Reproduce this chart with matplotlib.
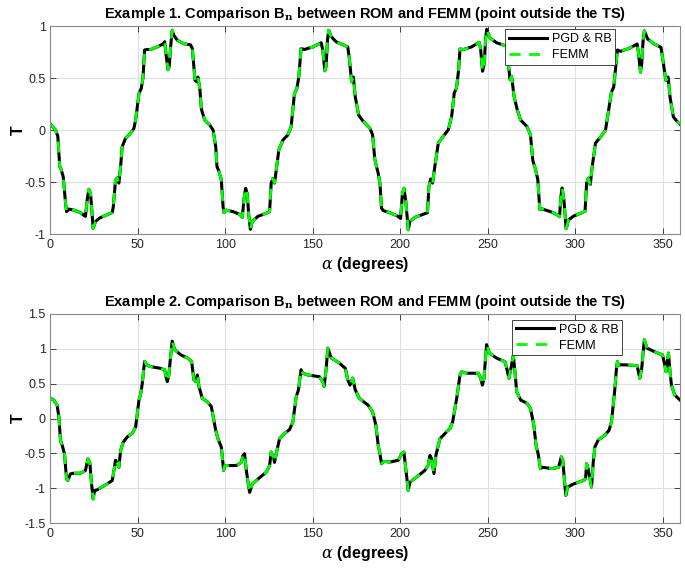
import numpy as np
import matplotlib.pyplot as plt

plt.rcParams['font.family'] = ['Liberation Sans', 'DejaVu Sans']
plt.rcParams['mathtext.fontset'] = 'dejavuserif'

# Example 1 (top): angle (deg) and Bn (T)
ang_top = [
    0, 2.9, 4.2, 5.3, 6.1, 7.3, 8.6, 9.2, 10.5, 13.4, 17.2, 19.1, 20, 21, 21.9, 22.9, 23.5, 24.4,
    25.8, 27.7, 31.5, 35.3, 35.9, 37.2, 38.2, 39.1, 40.1, 41, 42.9, 45.8, 47.7, 48.7, 50.6, 51.9,
    52.9, 53.8, 55, 57.2, 61, 64.5, 65.3, 66, 67.2, 67.9, 68.7, 69.6, 70.6, 72.5, 76.3, 80.1, 81.1,
    82, 82.6, 83.6, 84.3,
    85.4, 86.3, 88.2, 91.1, 93, 94.5, 95.2, 96.4, 97.7, 98.7, 99.2, 100.6, 104.4, 108.2, 109.7,
    110.6, 111.6, 112.5, 113.3, 114.3, 115.4, 118.6, 123.4, 125.3, 126.2, 127.2, 128.1, 129, 130.6,
    132.9, 135.7, 137.6, 139.5, 140.9, 142, 143.3, 145.2, 150, 154.8, 155.7, 156.9, 157.6, 158.4,
    159.1, 160.5, 163.3, 170, 170.9, 172.2, 173.2, 174.3, 176.2,
    178.8, 182.6, 184.2, 185.5, 187.4, 188.4, 189.3, 190.3, 194.1, 198.3, 200.2, 201.3, 202.1,
    203.1, 204.6, 205.5, 208.4, 213.2, 215.6, 216.4, 217.4, 218.5, 219.8, 221.8, 224.6, 227.5,
    229.4, 230.9, 232.2, 233.4, 234.2, 236.1, 240.8, 245.2, 246, 247.1, 248.1, 248.8, 249.4, 251.3,
    255.1, 260.9, 261.8, 262.8, 263.7, 265.1,
    267, 268.9, 272.6, 274.5, 275.8, 277.4, 278.7, 279.8, 281.1, 286.8, 290.2, 291.1, 291.9, 292.6,
    293.6, 294.9, 296.2, 299.1, 303.8, 305.7, 306.6, 307.5, 308.7, 309.8, 311.7, 314.7, 317.4,
    318.9, 320.8, 322.1, 323.2, 324.2, 326, 331.1, 335.5, 336.2, 337.4, 338.1, 338.9, 339.6, 341.5,
    345.3, 349.1, 350, 351.9, 353.2, 354.3, 356.2, 358.5, 360,
]
rom_top = [
    0.055, 0, -0.06, -0.35, -0.38, -0.45, -0.70, -0.785, -0.76, -0.77, -0.795, -0.82, -0.83, -0.67,
    -0.57, -0.61, -0.74, -0.945, -0.88, -0.85, -0.82, -0.795, -0.74, -0.48, -0.46, -0.51, -0.35,
    -0.16, -0.08, -0.03, 0.015, 0.10, 0.35, 0.40, 0.50, 0.77, 0.775, 0.775, 0.80, 0.83, 0.85, 0.74,
    0.58, 0.61, 0.80, 0.96, 0.91, 0.865, 0.83, 0.82, 0.785, 0.61, 0.48, 0.465, 0.51,
    0.40, 0.20, 0.096, 0.048, 0, -0.16, -0.35, -0.40, -0.48, -0.74, -0.795, -0.77, -0.785, -0.81,
    -0.84, -0.67, -0.56, -0.61, -0.80, -0.955, -0.88, -0.83, -0.80, -0.785, -0.51, -0.465, -0.51,
    -0.40, -0.19, -0.096, -0.048, 0.032, 0.35, 0.40, 0.51, 0.785, 0.775, 0.80, 0.84, 0.77, 0.57,
    0.61, 0.865, 0.96, 0.90, 0.85, 0.80, 0.69, 0.465, 0.51, 0.32, 0.145,
    0.084, 0.019, -0.045, -0.286, -0.415, -0.51, -0.75, -0.775, -0.795, -0.826, -0.85, -0.61,
    -0.56, -0.67, -0.96, -0.88, -0.84, -0.81, -0.795, -0.545, -0.47, -0.51, -0.35, -0.125, -0.06,
    0.003, 0.13, 0.357, 0.405, 0.58, 0.78, 0.775, 0.80, 0.845, 0.775, 0.566, 0.646, 0.87, 0.968,
    0.887, 0.84, 0.807, 0.646, 0.485, 0.518, 0.325,
    0.19, 0.096, 0.032, -0.048, -0.29, -0.38, -0.478, -0.764, -0.758, -0.79, -0.82, -0.834,
    -0.637, -0.557, -0.669, -0.949, -0.866, -0.828, -0.796, -0.78, -0.51, -0.462, -0.525, -0.35,
    -0.124, -0.064, 0, 0.16, 0.366, 0.414, 0.605, 0.77, 0.758, 0.787, 0.828, 0.748, 0.557, 0.637,
    0.86, 0.955, 0.876, 0.828, 0.796, 0.70, 0.478, 0.51, 0.318, 0.127, 0.08, 0.057,
]
femm_top = list(rom_top)  # FEMM curve lies on top of the ROM one

# Example 2 (bottom)
ang_bot = [
    0, 1.9, 3.8, 4.8, 5.7, 6.7, 8, 9.2, 9.9, 11.4, 13.4, 17.2, 20, 21.4, 22.5, 23.3, 24.4, 25.2,
    26.7, 29.6, 32.4, 35.3, 36.3, 37.2, 38.2, 39.1, 40.1, 41.6, 43.9, 46.7, 48.7, 50.6, 51.5, 52.5,
    53.8, 55, 57.2, 63, 65.3, 66.2, 66.8, 67.7, 68.7, 69.6, 71, 74.4, 78.2, 80.7, 82, 83, 84, 84.9,
    86.8, 89.7, 92,
    94.5, 95.8, 97.7, 99, 99.6, 101.5, 106.3, 109.1, 110.1, 111, 112, 113.1, 113.9, 115.4, 118.6,
    123.4, 125.3, 126.2, 127.6, 128.1, 129.5, 131, 133.8, 136.7, 138.6, 140.5, 141.8, 143.3, 144.3,
    147.1, 153.8, 155.7, 156.5, 157.6, 158.6, 160.5, 165.2, 168.6, 170, 171.3, 172.8, 174.3, 176.6,
    181.7, 184.2, 186.1, 187.4, 188.4, 189.3, 190.6, 194.1, 198.9, 200.8, 202.1, 203.2, 204.6,
    205.5, 209.4, 214.1, 216, 217, 217.9, 219.3, 220.4, 222.7, 225.6, 228.4, 230, 232.3, 234.2,
    235.1, 238, 244.7, 246, 247, 247.9, 249.4, 251, 255.2, 259.9, 260.9, 262.2, 263.7, 264.7, 265.6,
    266.6,
    268.9, 272.6, 274.5, 276.4, 277.7, 278.9, 280.2, 281.5, 286.8, 290.6, 292.1, 293, 294, 294.7,
    295.7, 299.1, 304.7, 306, 306.6, 307.5, 308.5, 309.4, 310.4, 311.3, 313.2, 317, 319.4, 320.8,
    322.6, 323.6, 324.2, 324.9, 328.3, 335.5, 336.2, 337, 338.1, 339.6, 341.1, 345.3, 350, 351.3,
    352, 353.4, 354.3, 355.1, 357, 360,
]
rom_bot = [
    0.29, 0.265, 0.19, 0.025, -0.31, -0.385, -0.505, -0.87, -0.89, -0.795, -0.785, -0.785, -0.745,
    -0.58, -0.63, -0.89, -1.155, -1.035, -1.025, -0.98, -0.94, -0.89, -0.745, -0.60, -0.64, -0.70,
    -0.46, -0.34, -0.265, -0.215, -0.12, 0.265, 0.34, 0.505, 0.82, 0.77, 0.745, 0.72, 0.70, 0.58,
    0.53, 0.625, 0.89, 1.11, 0.99, 0.915, 0.87, 0.82, 0.555, 0.53, 0.625, 0.46, 0.29, 0.24, 0.17,
    -0.17, -0.29, -0.41, -0.745, -0.675, -0.675, -0.675, -0.63, -0.53, -0.505, -0.745, -0.94,
    -1.06, -0.94, -0.87, -0.77, -0.675, -0.48, -0.555, -0.63, -0.46, -0.29, -0.215, -0.16, -0.05,
    0.31, 0.41, 0.70, 0.65, 0.625, 0.60, 0.53, 0.46, 0.70, 1.01, 0.87, 0.795, 0.72, 0.555, 0.48,
    0.58, 0.41, 0.29,
    0.19, 0.096, -0.096, -0.385, -0.505, -0.65, -0.615, -0.625, -0.60, -0.505, -0.48, -0.72,
    -1.035, -0.915, -0.84, -0.745, -0.67, -0.53, -0.575, -0.79, -0.53, -0.29, -0.216, -0.144,
    -0.048, 0.29, 0.625, 0.67, 0.65, 0.65, 0.577, 0.48, 0.577, 1.06, 0.94, 0.865, 0.817, 0.72,
    0.577, 0.77, 0.91, 0.67, 0.385,
    0.265, 0.216, 0.144, -0.096, -0.385, -0.51, -0.72, -0.70, -0.72, -0.70, -0.55, -0.60, -0.915,
    -1.105, -0.985, -0.94, -0.89, -0.865, -0.65, -0.72, -0.865, -0.985, -0.625, -0.41, -0.31,
    -0.24, -0.17, -0.048, 0.385, 0.70, 0.817, 0.77, 0.77, 0.76, 0.67, 0.577, 0.72, 1.13, 1.01, 0.96,
    0.913, 0.77, 0.67, 0.94, 0.67, 0.48, 0.337, 0.265,
]
femm_bot = list(rom_bot)

x_ticks = [0, 50, 100, 150, 200, 250, 300, 350]
y_ticks_top = [-1, -0.5, 0, 0.5, 1]
y_ticks_bot = [-1.5, -1, -0.5, 0, 0.5, 1, 1.5]
titles = ["Example 1. Comparison B$_\\mathbf{n}$ between ROM and FEMM (point outside the TS)",
          "Example 2. Comparison B$_\\mathbf{n}$ between ROM and FEMM (point outside the TS)"]

axcol = '#262626'


def style_axes(ax, yticks, ylim, title, leg_anchor):
    ax.set_xlim(0, 360)
    ax.set_ylim(*ylim)
    ax.set_xticks(x_ticks)
    ax.set_yticks(yticks)
    ax.set_yticklabels(['%g' % v for v in yticks])
    ax.grid(True, color='#dfdfdf', linewidth=0.8)
    ax.set_axisbelow(True)
    ax.tick_params(direction='in', length=4, width=0.6, labelsize=9,
                   colors=axcol, top=True, right=True, labelcolor=axcol)
    for sp in ax.spines.values():
        sp.set_color('#8a8a8a')
        sp.set_linewidth(0.8)
    ax.set_title(title, fontsize=10.5, fontweight='bold', color='black', pad=6)
    ax.set_ylabel('T', fontsize=11.5, fontweight='bold', labelpad=-1)
    ax.set_xlabel(r'$\alpha$ (degrees)', fontsize=11.5, fontweight='bold', labelpad=3)
    leg = ax.legend(loc='upper right', bbox_to_anchor=leg_anchor, borderaxespad=0,
                    fontsize=9, fancybox=False, framealpha=1, handlelength=3.0,
                    borderpad=0.3, labelspacing=0.3, handletextpad=0.4)
    leg.get_frame().set_edgecolor(axcol)
    leg.get_frame().set_linewidth(0.6)


fig = plt.figure(figsize=(6.85, 5.68), dpi=100)
ax1 = fig.add_axes([0.0737, 0.588, 0.919, 0.366])
ax2 = fig.add_axes([0.0737, 0.0792, 0.919, 0.368])

for ax, ang, rom, femm in [(ax1, ang_top, rom_top, femm_top), (ax2, ang_bot, rom_bot, femm_bot)]:
    ax.plot(ang, rom, color='black', linewidth=2.2, label='PGD & RB')
    ax.plot(ang, femm, color='#00ff00', linewidth=2.0, linestyle=(0, (4, 3)), label='FEMM')

style_axes(ax1, y_ticks_top, (-1, 1), titles[0], (0.897, 0.984))
style_axes(ax2, y_ticks_bot, (-1.5, 1.5), titles[1], (0.908, 0.971))

fig.savefig('out.png', dpi=100)
